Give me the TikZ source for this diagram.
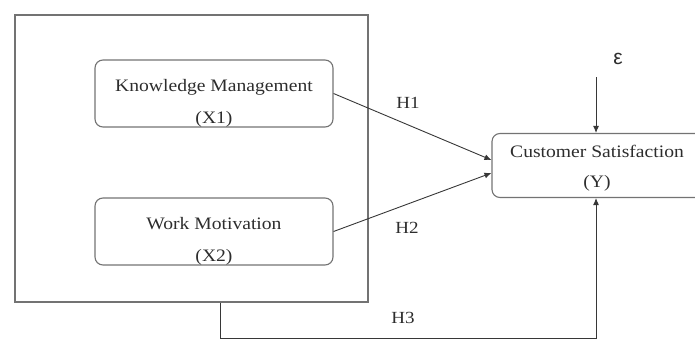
\documentclass[tikz,border=0pt]{standalone}
\usepackage{fontspec}
\setmainfont[FakeStretch=1.12]{Liberation Serif}
\newfontfamily\epsfont{Liberation Sans}
\usetikzlibrary{arrows.meta}
\definecolor{boxgray}{RGB}{115,115,115}
\definecolor{linegray}{RGB}{55,55,55}
\definecolor{txtgray}{RGB}{45,45,45}
% two centred lines, moved by dx (right) and dy (down), keeping the box size
\newcommand{\twolines}[4]{\hspace*{#1}\raisebox{-#2}[\height][\depth]{\begin{tabular}{@{}c@{}}#3\\#4\end{tabular}}\hspace*{-#1}}
\begin{document}
\begin{tikzpicture}[x=1pt,y=-1pt,
  box/.style={draw=boxgray, line width=1.1pt, rounded corners=8pt, minimum width=238pt, minimum height=67pt, align=center, text=txtgray, inner sep=0pt, font=\fontsize{17.5}{32}\selectfont},
  frame/.style={draw=boxgray, line width=1.4pt, minimum width=353pt, minimum height=287pt, inner sep=0pt},
  arr/.style={draw=linegray, line width=0.9pt, -{Latex[length=7pt,width=6pt]}},
  lab/.style={text=txtgray, inner sep=0pt, font=\fontsize{17}{20}\selectfont}]
\useasboundingbox (0,0) rectangle (695,340);
\clip (0,0) rectangle (695,340);
\node[frame] (outer) at (191.5,158.5) {};
\node[box] (km) at (214,93.5) {\twolines{0pt}{8pt}{Knowledge Management}{(X1)}};
\node[box] (wm) at (214,231.5) {\twolines{0pt}{7.5pt}{Work Motivation}{(X2)}};
\node[box, minimum width=218pt, minimum height=64pt, font=\fontsize{17.5}{30}\selectfont] (cs) at (601,165.5) {\twolines{-4pt}{1pt}{Customer Satisfaction}{(Y)}};
\node[lab, font=\epsfont\fontsize{21}{24}\selectfont] (eps) at (618,59) {ε};
\coordinate (epsfoot) at (596,77);
\coordinate (h3corner) at (220,338);
\draw[arr] (km.east) -- ([yshift=5.5pt]cs.west);
\draw[arr] (wm.east) -- ([yshift=-7.5pt]cs.west);
\draw[arr] (epsfoot) -- (epsfoot |- cs.north);
\draw[arr] (outer.south -| h3corner) -- (h3corner) -| (epsfoot |- cs.south);
\node[lab] (h1) at (408,103) {H1};
\node[lab] (h2) at (407,228) {H2};
\node[lab] (h3) at (403,318) {H3};
\end{tikzpicture}
\end{document}
